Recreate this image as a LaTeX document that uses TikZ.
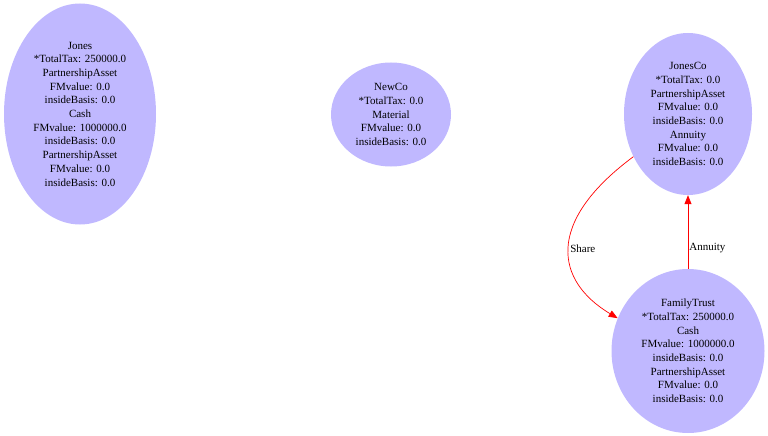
\documentclass[tikz,border=0pt]{standalone}
\usepackage{fontspec}
\setmainfont{Liberation Serif}
\usetikzlibrary{shapes.geometric,arrows.meta}
\definecolor{nodefill}{RGB}{192,184,255}
\begin{document}
\begin{tikzpicture}[
        % --- 樣式設定 ---
        x=1pt, y=-1pt,
        every node/.style={font=\fontsize{11}{13.7}\selectfont, align=center},
        entity/.style={ellipse, fill=nodefill, inner sep=0pt},
        flow/.style={draw=red, line width=0.7pt, -{Triangle[length=9pt,width=7pt]}},
        elabel/.style={inner sep=1pt, fill=none}
        % --------------------
    ]
    \useasboundingbox (0,0) rectangle (768,436);

    % 實體節點
    \node[entity, minimum width=152pt, minimum height=221pt] (jones) at (80,114)
        {Jones\\*TotalTax: 250000.0\\PartnershipAsset\\FMvalue: 0.0\\insideBasis: 0.0\\Cash\\FMvalue: 1000000.0\\insideBasis: 0.0\\PartnershipAsset\\FMvalue: 0.0\\insideBasis: 0.0};
    \node[entity, minimum width=120pt, minimum height=104pt] (newco) at (391,114.5)
        {NewCo\\*TotalTax: 0.0\\Material\\FMvalue: 0.0\\insideBasis: 0.0};
    \node[entity, minimum width=128pt, minimum height=162pt] (jonesco) at (688,114)
        {JonesCo\\*TotalTax: 0.0\\PartnershipAsset\\FMvalue: 0.0\\insideBasis: 0.0\\Annuity\\FMvalue: 0.0\\insideBasis: 0.0};
    \node[entity, minimum width=153pt, minimum height=164pt] (trust) at (688,351)
        {FamilyTrust\\*TotalTax: 250000.0\\Cash\\FMvalue: 1000000.0\\insideBasis: 0.0\\PartnershipAsset\\FMvalue: 0.0\\insideBasis: 0.0};

    % 連線
    \draw[flow] (jonesco.218) .. controls +(-89,66) and +(-62,-37) .. (trust.155)
        node[elabel, right, pos=0.5] {Share};
    \draw[flow] (trust.north) -- (jonesco.south)
        node[elabel, right, pos=0.28] {Annuity};
\end{tikzpicture}
\end{document}
